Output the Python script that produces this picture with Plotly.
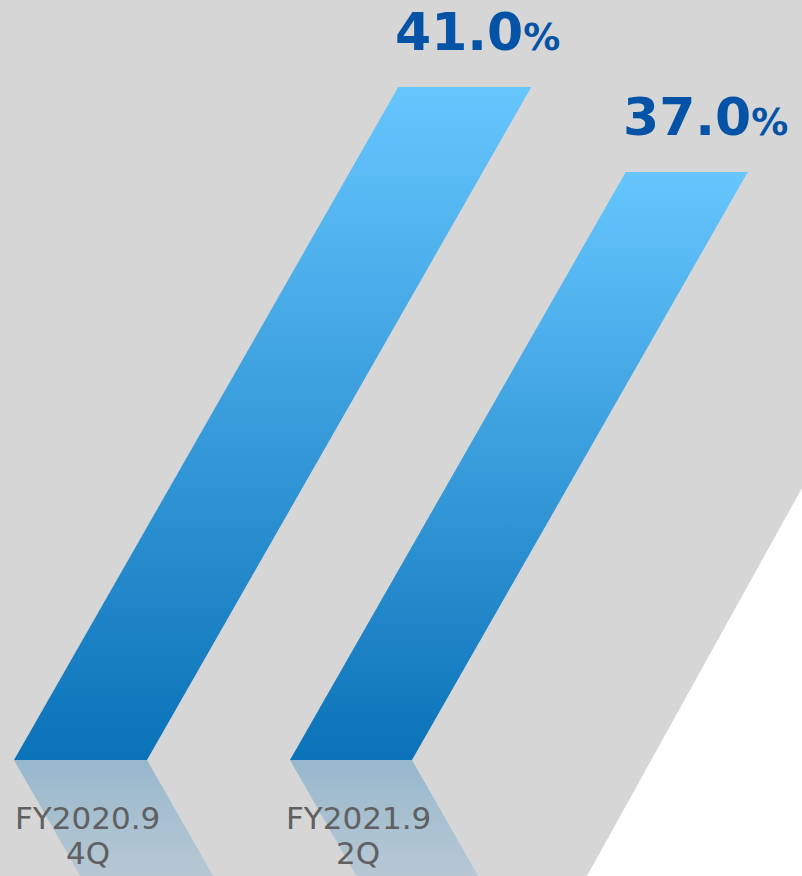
import plotly.graph_objects as go

# ---------------- data ----------------
categories = ["FY2020.9\n4Q", "FY2021.9\n2Q"]
values = [41.0, 37.0]
value_text = ["41.0", "37.0"]

# ---------------- geometry / style ----------------
W, H = 802, 876
PX_PER_UNIT = 21.25          # vertical pixels per percentage point
AXIS_FLOOR = 9.33            # value at the bars' base line
BASE_PX = 760                # pixel row of the base line
Y_TOP = AXIS_FLOOR + BASE_PX / PX_PER_UNIT
Y_BOT = AXIS_FLOOR - (H - BASE_PX) / PX_PER_UNIT
SLANT = 0.571                # horizontal px per vertical px
bar_left = [14, 290]         # px at base
bar_width = [133, 122]       # px

BAR_TOP_COLOR = "#66C6FE"
BAR_BOT_COLOR = "#0A72B8"
LABEL_BLUE = "#0453A6"
CAT_GREY = "#606060"
BG_GREY = "#D6D6D6"

fig = go.Figure()

for i, v in enumerate(values):
    L, w = bar_left[i], bar_width[i]
    dx = SLANT * (v - AXIS_FLOOR) * PX_PER_UNIT
    fig.add_trace(go.Scatter(
        x=[L, L + w, L + w + dx, L + dx, L],
        y=[AXIS_FLOOR, AXIS_FLOOR, v, v, AXIS_FLOOR],
        mode="lines", line=dict(width=0), fill="toself",
        fillgradient=dict(type="vertical",
                          colorscale=[[0, BAR_BOT_COLOR], [1, BAR_TOP_COLOR]],
                          start=AXIS_FLOOR, stop=v),
        hoverinfo="skip", showlegend=False))
    # reflection
    dxr = SLANT * (AXIS_FLOOR - Y_BOT) * PX_PER_UNIT
    fig.add_trace(go.Scatter(
        x=[L, L + w, L + w + dxr, L + dxr, L],
        y=[AXIS_FLOOR, AXIS_FLOOR, Y_BOT, Y_BOT, AXIS_FLOOR],
        mode="lines", line=dict(width=0), fill="toself",
        fillgradient=dict(type="vertical",
                          colorscale=[[0, "rgba(30,130,200,0.17)"],
                                      [1, "rgba(10,114,184,0.31)"]],
                          start=Y_BOT, stop=AXIS_FLOOR),
        hoverinfo="skip", showlegend=False))

    # value label
    fig.add_annotation(
        x=L + dx, y=v, xref="x", yref="y", xanchor="left", yanchor="bottom",
        xshift=-5, yshift=23, showarrow=False,
        text=f"{value_text[i]}<span style='font-size:37px'>%</span>",
        font=dict(family="DejaVu Sans", size=52, color=LABEL_BLUE, weight="bold"))

    # category label (two lines)
    line1, line2 = categories[i].split("\n")
    cx = L + w / 2 + 7
    fig.add_annotation(x=cx, y=1 - 818 / H, xref="x", yref="paper",
                       xanchor="center", yanchor="middle", showarrow=False,
                       text=line1, font=dict(family="DejaVu Sans", size=31, color=CAT_GREY))
    fig.add_annotation(x=cx, y=1 - 853 / H, xref="x", yref="paper",
                       xanchor="center", yanchor="middle", showarrow=False,
                       text=line2, font=dict(family="DejaVu Sans", size=31, color=CAT_GREY))

# grey backdrop with white triangle cut at bottom-right
fig.add_shape(type="path", xref="paper", yref="paper", layer="below",
              path=f"M 0,1 L 1,1 L 1,{1 - 488 / H} L {587 / W},0 L 0,0 Z",
              fillcolor=BG_GREY, line=dict(width=0))

fig.update_layout(
    width=W, height=H, margin=dict(l=0, r=0, t=0, b=0),
    paper_bgcolor="white", plot_bgcolor="rgba(0,0,0,0)",
    xaxis=dict(range=[0, W], visible=False, fixedrange=True),
    yaxis=dict(range=[Y_BOT, Y_TOP], visible=False, fixedrange=True),
    showlegend=False,
)

fig.write_html("out.html", config={"displayModeBar": False},
               post_script="document.body.style.margin='0';document.body.style.overflow='hidden';")
